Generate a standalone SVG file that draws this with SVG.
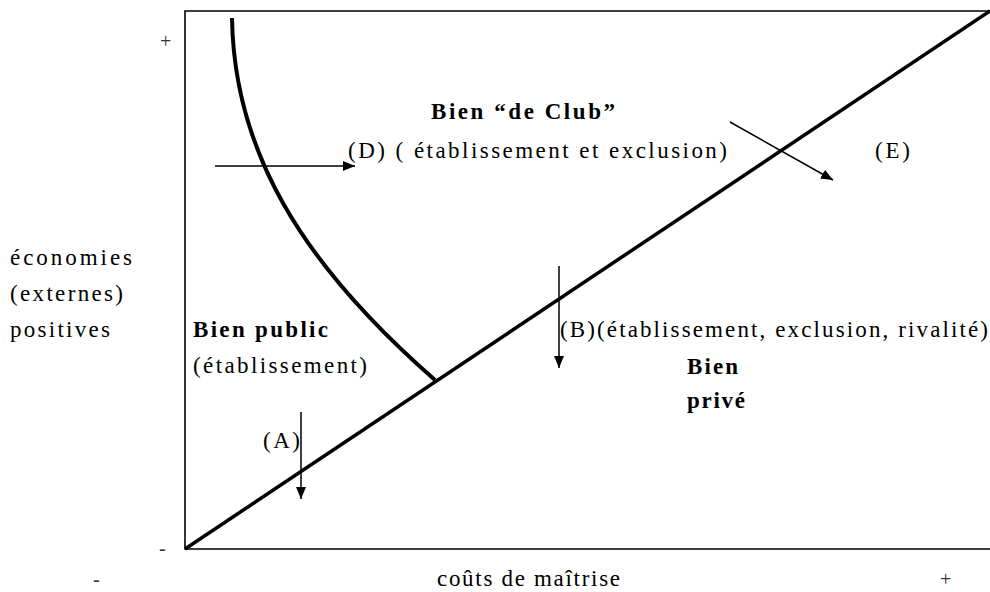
<svg xmlns="http://www.w3.org/2000/svg" width="990" height="592" viewBox="0 0 990 592" font-family="Liberation Serif, DejaVu Serif, serif" font-size="23">
<style>
text{fill:#000}
.b{font-weight:bold}
.s{font-size:20px;fill:#333}
.arr{stroke:#000;stroke-width:1.5;fill:none;marker-end:url(#ah)}
</style>
<defs>
<marker id="ah" viewBox="0 0 12 10" refX="12" refY="5" markerWidth="12" markerHeight="10" markerUnits="userSpaceOnUse" orient="auto">
<path d="M0,0 L12,5 L0,10 Z" fill="#000"/>
</marker>
</defs>
<rect width="990" height="592" fill="#fff"/>
<g id="frame">
<polyline points="992,11 185,11 185,549 992,549" fill="none" stroke="#000" stroke-width="1.6"/>
</g>
<g id="curves">
<line x1="185" y1="549" x2="990" y2="11" stroke="#000" stroke-width="3.5"/>
<path d="M232,18 C234,150 300,262 435,380" fill="none" stroke="#000" stroke-width="4"/>
</g>
<g id="connectors">
<line class="arr" x1="215" y1="166" x2="355" y2="166"/>
<line class="arr" x1="301" y1="412" x2="301" y2="499"/>
<line class="arr" x1="559" y1="266" x2="559" y2="368"/>
<line class="arr" x1="730" y1="122" x2="833" y2="180"/>
</g>
<g id="axis-labels">
<text class="s" x="160" y="48">+</text>
<text class="s" x="159" y="555">-</text>
<text class="s" x="93" y="586">-</text>
<text class="s" x="940" y="586">+</text>
<text x="437" y="586" textLength="183" lengthAdjust="spacing">coûts de maîtrise</text>
<text x="10" y="265" textLength="122" lengthAdjust="spacing">économies</text>
<text x="10" y="301" textLength="113" lengthAdjust="spacing">(externes)</text>
<text x="10" y="337" textLength="100" lengthAdjust="spacing">positives</text>
</g>
<g id="club">
<text class="b" x="431" y="119" textLength="184" lengthAdjust="spacing">Bien “de Club”</text>
<text x="348" y="158" textLength="379" lengthAdjust="spacing">(D) ( établissement et exclusion)</text>
<text x="875" y="158" textLength="35" lengthAdjust="spacing">(E)</text>
</g>
<g id="public">
<text class="b" x="193" y="337" textLength="135" lengthAdjust="spacing">Bien public</text>
<text x="193" y="373" textLength="174" lengthAdjust="spacing">(établissement)</text>
<text x="263" y="448" textLength="37" lengthAdjust="spacing">(A)</text>
</g>
<g id="prive">
<text x="560" y="337" textLength="428" lengthAdjust="spacing">(B)(établissement, exclusion, rivalité)</text>
<text class="b" x="687" y="374" textLength="51" lengthAdjust="spacing">Bien</text>
<text class="b" x="687" y="408" textLength="58" lengthAdjust="spacing">privé</text>
</g>
</svg>
